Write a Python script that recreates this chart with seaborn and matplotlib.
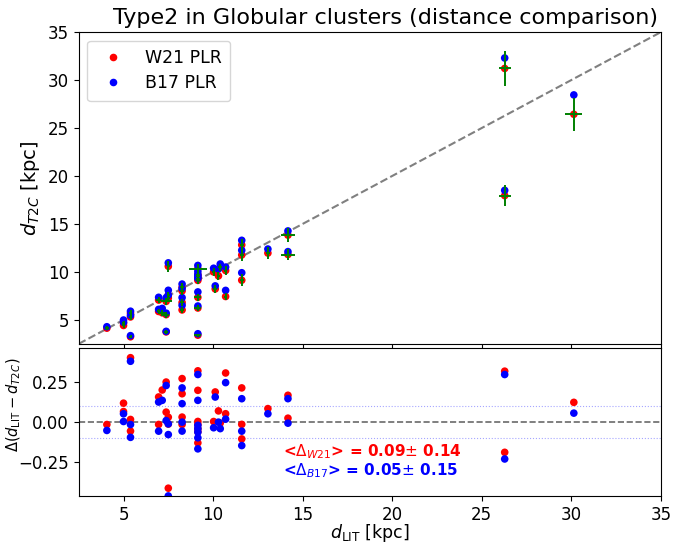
import numpy as np
import pandas as pd
import matplotlib
matplotlib.use("Agg")
import matplotlib.pyplot as plt
import seaborn as sns

# Literature distances of the clusters (kpc)
d_lit = [4.07, 5.00, 5.00, 5.39, 5.39, 5.39, 6.96, 6.96, 7.16, 7.38,
         7.38, 7.38, 7.50, 7.50, 7.50, 8.27, 8.27, 8.27, 8.27, 9.15,
         9.15, 9.15, 9.15, 9.15, 9.15, 9.15, 9.15, 10.03, 10.12, 10.30,
         10.40, 10.70, 10.70, 11.60, 11.60, 11.60, 13.06, 14.18, 14.18, 26.28,
         26.28, 30.14]

# Type II Cepheid distances from the W21 period-luminosity relation (kpc)
d_w21 = [4.13, 4.41, 4.67, 3.23, 5.30, 5.69, 5.87, 7.06, 5.73, 5.54,
         6.92, 3.74, 7.27, 7.59, 10.58, 6.03, 6.81, 8.01, 8.39, 6.23,
         7.34, 9.11, 9.28, 9.52, 9.70, 10.33, 3.40, 9.99, 8.22, 9.58,
         10.46, 7.43, 10.14, 9.13, 11.76, 12.81, 11.96, 11.81, 13.83, 17.95,
         31.21, 26.43]

# Type II Cepheid distances from the B17 period-luminosity relation (kpc)
d_b17 = [4.28, 4.74, 4.98, 3.35, 5.47, 5.90, 6.09, 7.35, 6.19, 5.70,
         7.31, 3.80, 7.58, 8.08, 10.94, 6.51, 7.32, 8.27, 8.73, 6.44,
         7.91, 9.33, 9.52, 9.72, 10.04, 10.67, 3.55, 10.38, 8.54, 10.30,
         10.82, 8.07, 10.50, 9.91, 12.25, 13.29, 12.38, 12.11, 14.27, 18.50,
         32.30, 28.45]

# Uncertainties on the W21 distances (kpc)
w21_xerr = [0.10, 0.10, 0.10, 0.10, 0.10, 0.10, 0.10, 0.15, 0.15, 0.15,
            0.30, 0.10, 0.10, 0.10, 0.10, 0.10, 0.10, 0.10, 0.10, 0.20,
            0.20, 0.10, 0.10, 0.10, 0.10, 0.50, 0.20, 0.10, 0.10, 0.10,
            0.10, 0.10, 0.10, 0.10, 0.10, 0.10, 0.10, 0.40, 0.40, 0.33,
            0.33, 0.48]
w21_yerr = [0.20, 0.25, 0.25, 0.15, 0.30, 0.30, 0.30, 0.35, 0.30, 0.30,
            0.35, 0.20, 0.35, 0.35, 0.55, 0.30, 0.35, 0.40, 0.45, 0.30,
            0.35, 0.40, 0.40, 0.40, 0.40, 0.50, 0.15, 0.40, 0.45, 0.40,
            0.40, 0.40, 0.45, 0.60, 0.60, 0.60, 0.60, 0.60, 0.70, 1.10,
            1.85, 1.75]

labels = ["W21 PLR", "B17 PLR"]
colors = {"W21 PLR": "red", "B17 PLR": "blue"}
mean_texts = [r"<$\Delta_{W21}$> = 0.09$\pm$ 0.14",
              r"<$\Delta_{B17}$> = 0.05$\pm$ 0.15"]

lit = np.array(d_lit)
w21 = np.array(d_w21)
b17 = np.array(d_b17)

df = pd.DataFrame({
    "lit": np.concatenate([lit, lit]),
    "t2c": np.concatenate([w21, b17]),
    "rel": labels[0:1] * len(lit) + labels[1:2] * len(lit),
})
df["delta"] = (df["lit"] - df["t2c"]) / df["lit"]

fig = plt.figure(figsize=(6.73, 5.44), dpi=100)
ax1 = fig.add_axes([0.117, 0.368, 0.865, 0.573])
ax2 = fig.add_axes([0.117, 0.088, 0.865, 0.272], sharex=ax1)

# Upper panel: distance comparison
lims = [2.5, 35]
ax1.plot(lims, lims, ls="--", color="gray", lw=1.5, zorder=1)
sns.scatterplot(data=df, x="lit", y="t2c", hue="rel", palette=colors,
                s=30, linewidth=0, ax=ax1, zorder=2)
ax1.errorbar(lit, w21, xerr=w21_xerr, yerr=w21_yerr, fmt="none",
             ecolor="green", elinewidth=1.4, capsize=0, zorder=3)
ax1.set_xlim(lims)
ax1.set_ylim(lims)
ax1.set_yticks([5, 10, 15, 20, 25, 30, 35])
ax1.tick_params(labelbottom=False, labelsize=12)
ax1.set_xlabel("")
ax1.set_ylabel(r"$d_{T2C}$ [kpc]", fontsize=14)
ax1.set_title("Type2 in Globular clusters (distance comparison)",
              fontsize=16, x=0.527)
leg = ax1.legend(loc="upper left", fontsize=12.5, borderpad=0.5,
                 labelspacing=0.4)

# Lower panel: fractional residuals
ax2.axhline(0, ls="--", color="dimgray", lw=1.2, zorder=1)
for yv in (0.1, -0.1):
    ax2.axhline(yv, ls=":", color="blue", alpha=0.35, lw=0.8, zorder=1)
sns.scatterplot(data=df, x="lit", y="delta", hue="rel", palette=colors,
                s=30, linewidth=0, ax=ax2, legend=False, zorder=2)
ax2.set_ylim(-0.46, 0.46)
ax2.set_yticks([-0.25, 0.0, 0.25])
ax2.set_xticks([5, 10, 15, 20, 25, 30, 35])
ax2.tick_params(labelsize=12)
ax2.set_xlabel(r"$d_{\rm LIT}$ [kpc]", fontsize=12.5, labelpad=-1)
ax2.set_ylabel(r"$\Delta(d_{\rm LIT}-d_{T2C})$", fontsize=10.5)
ax2.yaxis.set_label_coords(-0.096, 0.62)
ax2.text(13.9, -0.185, mean_texts[0], color="red", fontsize=11,
         fontweight="bold", va="center")
ax2.text(13.9, -0.30, mean_texts[1], color="blue", fontsize=11,
         fontweight="bold", va="center")

fig.savefig("out.png", dpi=100)
